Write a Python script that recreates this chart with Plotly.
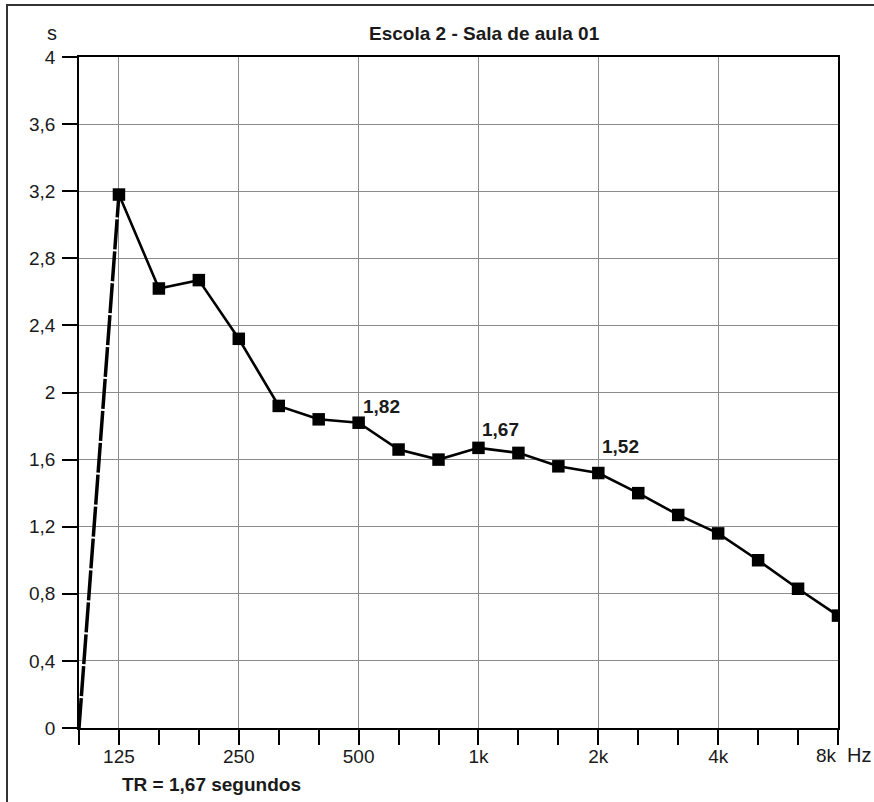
import plotly.graph_objects as go

bands = ["100", "125", "160", "200", "250", "315", "400", "500", "630", "800",
         "1k", "1.25k", "1.6k", "2k", "2.5k", "3.15k", "4k", "5k", "6.3k", "8k"]
rt_values = [0, 3.18, 2.62, 2.67, 2.32, 1.92, 1.84, 1.82, 1.66, 1.60,
             1.67, 1.64, 1.56, 1.52, 1.40, 1.27, 1.16, 1.00, 0.83, 0.67]
labeled_bands = ["125", "250", "500", "1k", "2k", "4k", "8k"]
y_ticks = [0, 0.4, 0.8, 1.2, 1.6, 2.0, 2.4, 2.8, 3.2, 3.6, 4.0]
y_tick_text = ["0", "0,4", "0,8", "1,2", "1,6", "2", "2,4", "2,8", "3,2", "3,6", "4"]
value_labels = {"500": "1,82", "1k": "1,67", "2k": "1,52"}
title = "Escola 2 - Sala de aula 01"
footer = "TR = 1,67 segundos"
unit_x = "Hz"
unit_y = "s"

idx = list(range(len(bands)))
font_family = "Liberation Sans, Arial, sans-serif"
txt_color = "#1a1a1a"
label_yshift = {"500": 4, "1k": 6, "2k": 14}

fig = go.Figure()
# first segment (dashed, thick)
fig.add_trace(go.Scatter(x=idx[:2], y=rt_values[:2], mode="lines",
                         line=dict(color="black", width=3.5, dash="30px,2px"),
                         hoverinfo="skip", showlegend=False))
fig.add_trace(go.Scatter(x=idx[1:], y=rt_values[1:], mode="lines+markers",
                         line=dict(color="black", width=2.6),
                         marker=dict(symbol="square", size=12.5, color="black"),
                         showlegend=False))

W, H = 874, 802
L, R, T, B = 79, 36, 57, 74
pw, ph = W - L - R, H - T - B

last_band = labeled_bands[-1]
tick_text = [b if b != last_band else "" for b in labeled_bands]

fig.update_layout(
    width=W, height=H,
    margin=dict(l=L, r=R, t=T, b=B),
    paper_bgcolor="white", plot_bgcolor="white",
    font=dict(family=font_family, color=txt_color, size=19),
    showlegend=False,
)
fig.update_xaxes(
    range=[0, len(bands) - 1],
    tickmode="array",
    tickvals=[bands.index(b) for b in labeled_bands],
    ticktext=tick_text,
    ticks="outside", ticklen=15, tickwidth=1.5, tickcolor="black",
    showgrid=True, gridcolor="#8c8c8c", gridwidth=1.2,
    showline=True, linecolor="black", linewidth=1.5, mirror=True,
    zeroline=False, automargin=False, ticklabelstandoff=-5,
    tickfont=dict(size=19),
    minor=dict(tickvals=idx, ticks="outside", ticklen=15, tickwidth=1.5,
               tickcolor="black", showgrid=False),
)
fig.update_yaxes(
    range=[0, 4],
    tickmode="array", tickvals=y_ticks, ticktext=y_tick_text,
    ticks="outside", ticklen=15, tickwidth=1.5, tickcolor="black",
    showgrid=True, gridcolor="#8c8c8c", gridwidth=1.2,
    showline=True, linecolor="black", linewidth=1.5, mirror=True,
    zeroline=False, automargin=False, ticklabelstandoff=3,
    tickfont=dict(size=19),
)

for b, txt in value_labels.items():
    i = bands.index(b)
    fig.add_annotation(x=i, y=rt_values[i], text="<b>%s</b>" % txt, showarrow=False,
                       xanchor="left", yanchor="bottom", xshift=2, yshift=label_yshift[b],
                       font=dict(size=19, color=txt_color))

def px(xp):
    return (xp - L) / pw

def py(yp):
    return (H - B - yp) / ph

# last x tick label, right-aligned to its tick, followed by the unit
fig.add_annotation(xref="x", yref="paper", x=bands.index(last_band), y=py(755),
                   text=last_band, showarrow=False, xanchor="right", yanchor="middle",
                   xshift=1, font=dict(size=19, color=txt_color))
fig.add_annotation(xref="paper", yref="paper", x=px(845), y=py(755), text=unit_x,
                   showarrow=False, xanchor="left", yanchor="middle",
                   font=dict(size=20, color=txt_color))
fig.add_annotation(xref="paper", yref="paper", x=px(484), y=py(33), text="<b>%s</b>" % title,
                   showarrow=False, xanchor="center", yanchor="middle",
                   font=dict(size=19, color=txt_color))
fig.add_annotation(xref="paper", yref="paper", x=px(52), y=py(33), text=unit_y,
                   showarrow=False, xanchor="center", yanchor="middle",
                   font=dict(size=20, color=txt_color))
fig.add_annotation(xref="paper", yref="paper", x=px(211), y=py(784), text="<b>%s</b>" % footer,
                   showarrow=False, xanchor="center", yanchor="middle",
                   font=dict(size=19, color=txt_color))

# outer frame
fig.add_shape(type="rect", xref="paper", yref="paper",
              x0=px(7), x1=px(880), y0=py(810), y1=py(5),
              line=dict(color="#333333", width=2), layer="below")

fig.write_html("out.html", config={"displayModeBar": False},
               post_script="document.body.style.margin='0';")
